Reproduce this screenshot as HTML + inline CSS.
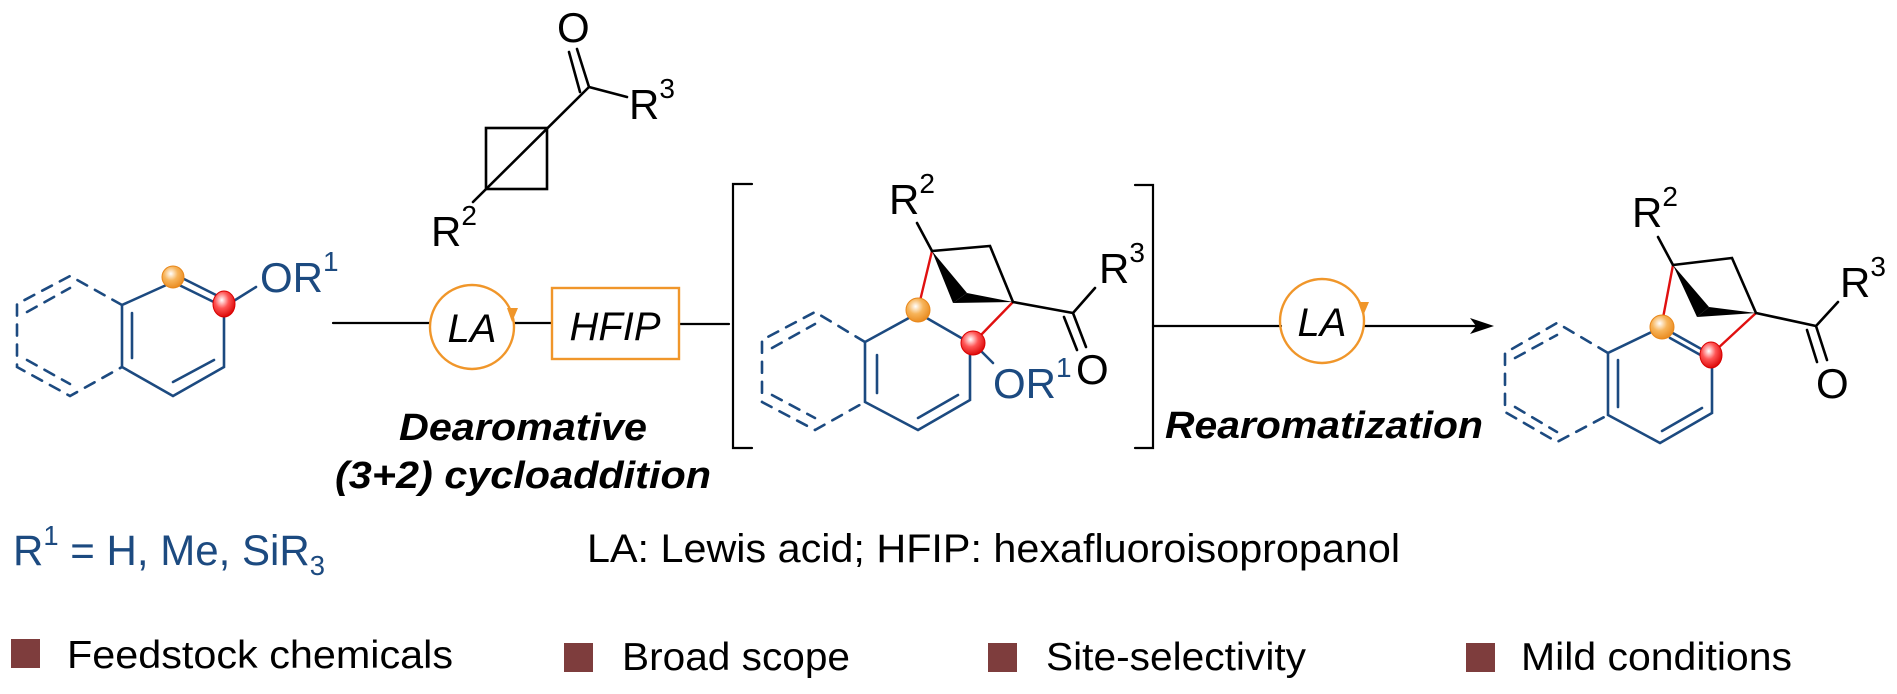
<!DOCTYPE html>
<html><head><meta charset="utf-8"><style>html,body{margin:0;padding:0;background:#fff}svg{display:block}</style></head>
<body>
<svg width="1897" height="694" viewBox="0 0 1897 694" xmlns="http://www.w3.org/2000/svg" font-family="Liberation Sans, Arial, sans-serif">
<defs>
<radialGradient id="go" cx="0.4" cy="0.35" r="0.7"><stop offset="0" stop-color="#fff"/><stop offset="0.45" stop-color="#f7b45a"/><stop offset="1" stop-color="#e8871a"/></radialGradient>
<radialGradient id="gr" cx="0.4" cy="0.35" r="0.7"><stop offset="0" stop-color="#fff"/><stop offset="0.45" stop-color="#f55"/><stop offset="1" stop-color="#d80000"/></radialGradient>
</defs>
<g fill="none" stroke-linecap="round">
<g stroke="#1c4a80" stroke-width="2.6">
<polyline points="173,282 122,305 122,367 173,396 224,367 224,307"/>
<line x1="173" y1="282" x2="224" y2="307"/>
<line x1="170" y1="272" x2="220" y2="297"/>
<line x1="132" y1="313" x2="132" y2="358"/>
<line x1="173" y1="382" x2="214" y2="360"/>
<line x1="224" y1="307" x2="256" y2="287"/>
<g stroke-dasharray="11 9">
<polyline points="122,305 70,276 17,304 17,367 70,396 122,367"/>
<line x1="27" y1="312" x2="70" y2="288"/>
<line x1="27" y1="360" x2="70" y2="384"/>
</g>
</g>
<g stroke="#000" stroke-width="2.6">
<rect x="486" y="128" width="61" height="61"/>
<line x1="473" y1="202" x2="589" y2="87"/>
<line x1="589" y1="87" x2="627" y2="97"/>
<line x1="589" y1="87" x2="577" y2="49"/>
<line x1="580" y1="92" x2="569" y2="52"/>
</g>
<g stroke="#000" stroke-width="2.2">
<line x1="333" y1="323" x2="430" y2="323"/>
<line x1="514" y1="323" x2="552" y2="323"/>
<line x1="679" y1="324" x2="729" y2="324"/>
<polyline points="752,184 733,184 733,448 752,448"/>
<polyline points="1135,185 1153,185 1153,448 1135,448"/>
<line x1="1153" y1="326" x2="1281" y2="326"/>
<line x1="1364" y1="326" x2="1478" y2="326"/>
</g>
<circle cx="472" cy="327" r="42" stroke="#f0962a" stroke-width="2.4"/>
<rect x="552" y="288" width="127" height="71" stroke="#f0962a" stroke-width="2.4"/>
<circle cx="1322" cy="321" r="42" stroke="#f0962a" stroke-width="2.4"/>
<g stroke="#1c4a80" stroke-width="2.6">
<polyline points="918,313 865,342 865,402 918,430 970,400 970,343 918,313"/>
<line x1="877" y1="355" x2="877" y2="393"/>
<line x1="918" y1="418" x2="958" y2="395"/>
<line x1="973" y1="343" x2="993" y2="363"/>
<g stroke-dasharray="11 9">
<polyline points="865,342 815,312 762,340 762,402 815,430 865,402"/>
<line x1="772" y1="348" x2="815" y2="324"/>
<line x1="772" y1="395" x2="815" y2="418"/>
</g>
</g>
<g stroke="#e01010" stroke-width="2.4">
<line x1="932" y1="251" x2="919" y2="305"/>
<line x1="1013" y1="302" x2="979" y2="337"/>
</g>
<g stroke="#000" stroke-width="2.6">
<line x1="932" y1="251" x2="917" y2="223"/>
<polyline points="932,251 990,246 1013,302"/>
<line x1="1013" y1="302" x2="1073" y2="313"/>
<line x1="1073" y1="313" x2="1095" y2="288"/>
<line x1="1073" y1="313" x2="1086" y2="347"/>
<line x1="1064" y1="317" x2="1077" y2="350"/>
</g>
<polygon points="932,251 953,303 967,293" fill="#000"/>
<polygon points="953,303 967,293 1013,302" fill="#000"/>
<g stroke="#1c4a80" stroke-width="2.6">
<polyline points="1662,327 1608,353 1608,415 1660,443 1712,413 1712,355 1662,327"/>
<line x1="1670" y1="338" x2="1704" y2="357"/>
<line x1="1618" y1="360" x2="1618" y2="407"/>
<line x1="1662" y1="431" x2="1702" y2="408"/>
<g stroke-dasharray="11 9">
<polyline points="1608,353 1557,323 1505,353 1505,412 1557,442 1608,415"/>
<line x1="1515" y1="358" x2="1557" y2="335"/>
<line x1="1515" y1="407" x2="1557" y2="432"/>
</g>
</g>
<g stroke="#e01010" stroke-width="2.4">
<line x1="1673" y1="265" x2="1663" y2="318"/>
<line x1="1756" y1="313" x2="1716" y2="350"/>
</g>
<g stroke="#000" stroke-width="2.6">
<line x1="1673" y1="265" x2="1658" y2="237"/>
<polyline points="1673,265 1732,258 1756,313"/>
<line x1="1756" y1="313" x2="1816" y2="326"/>
<line x1="1816" y1="326" x2="1838" y2="302"/>
<line x1="1816" y1="326" x2="1827" y2="360"/>
<line x1="1807" y1="330" x2="1817" y2="362"/>
</g>
<polygon points="1673,265 1697,317 1709,307" fill="#000"/>
<polygon points="1697,317 1709,307 1756,313" fill="#000"/>
</g>
<polygon points="1494,326 1470,318 1476,326 1470,334" fill="#000"/>
<polygon points="507,308 518,308 512,322" fill="#f0962a"/>
<polygon points="1358,302 1369,302 1363,316" fill="#f0962a"/>
<circle cx="173" cy="277" r="11" fill="url(#go)" stroke="#e8871a" stroke-width="1"/>
<ellipse cx="224" cy="304" rx="11" ry="13" fill="url(#gr)" stroke="#d80000" stroke-width="1"/>
<circle cx="918" cy="310" r="12" fill="url(#go)" stroke="#e8871a" stroke-width="1"/>
<circle cx="973" cy="343" r="12" fill="url(#gr)" stroke="#d80000" stroke-width="1"/>
<circle cx="1662" cy="327" r="12" fill="url(#go)" stroke="#e8871a" stroke-width="1"/>
<ellipse cx="1711" cy="355" rx="11" ry="13" fill="url(#gr)" stroke="#d80000" stroke-width="1"/>
<g font-size="42" fill="#000">
<text x="557" y="42">O</text>
<text x="629" y="119">R<tspan font-size="28" dy="-21">3</tspan></text>
<text x="431" y="246">R<tspan font-size="28" dy="-21">2</tspan></text>
<text x="889" y="214">R<tspan font-size="28" dy="-21">2</tspan></text>
<text x="1099" y="283">R<tspan font-size="28" dy="-21">3</tspan></text>
<text x="1076" y="384">O</text>
<text x="1632" y="227">R<tspan font-size="28" dy="-21">2</tspan></text>
<text x="1840" y="297">R<tspan font-size="28" dy="-21">3</tspan></text>
<text x="1816" y="398">O</text>
<text x="472" y="342" font-style="italic" text-anchor="middle" font-size="40">LA</text>
<text x="1322" y="336" font-style="italic" text-anchor="middle" font-size="40">LA</text>
<text x="615" y="340" font-style="italic" text-anchor="middle" font-size="40">HFIP</text>
</g>
<g font-size="42" fill="#1c4a80">
<text x="260" y="292">OR<tspan font-size="28" dy="-21">1</tspan></text>
<text x="993" y="398">OR<tspan font-size="28" dy="-21">1</tspan></text>
</g>
<g font-weight="bold" font-style="italic" font-size="38" fill="#000">
<text x="399" y="440" textLength="248" lengthAdjust="spacingAndGlyphs">Dearomative</text>
<text x="335" y="488" textLength="376" lengthAdjust="spacingAndGlyphs">(3+2) cycloaddition</text>
<text x="1165" y="438" textLength="318" lengthAdjust="spacingAndGlyphs">Rearomatization</text>
</g>
<text x="13" y="565" font-size="43" fill="#1c4a80" textLength="312" lengthAdjust="spacingAndGlyphs">R<tspan font-size="28" dy="-20">1</tspan><tspan dy="20"> = H, Me, SiR</tspan><tspan font-size="28" dy="10">3</tspan></text>
<text x="587" y="562" font-size="40" fill="#000" textLength="813" lengthAdjust="spacingAndGlyphs">LA: Lewis acid; HFIP: hexafluoroisopropanol</text>
<g fill="#7e3d3d">
<rect x="11" y="639" width="29" height="29"/>
<rect x="564" y="643" width="29" height="29"/>
<rect x="988" y="643" width="29" height="29"/>
<rect x="1466" y="643" width="29" height="29"/>
</g>
<g font-size="39" fill="#000">
<text x="67" y="668" textLength="386" lengthAdjust="spacingAndGlyphs">Feedstock chemicals</text>
<text x="622" y="670" textLength="228" lengthAdjust="spacingAndGlyphs">Broad scope</text>
<text x="1046" y="670" textLength="260" lengthAdjust="spacingAndGlyphs">Site-selectivity</text>
<text x="1521" y="670" textLength="271" lengthAdjust="spacingAndGlyphs">Mild conditions</text>
</g>
</svg>
</body></html>
